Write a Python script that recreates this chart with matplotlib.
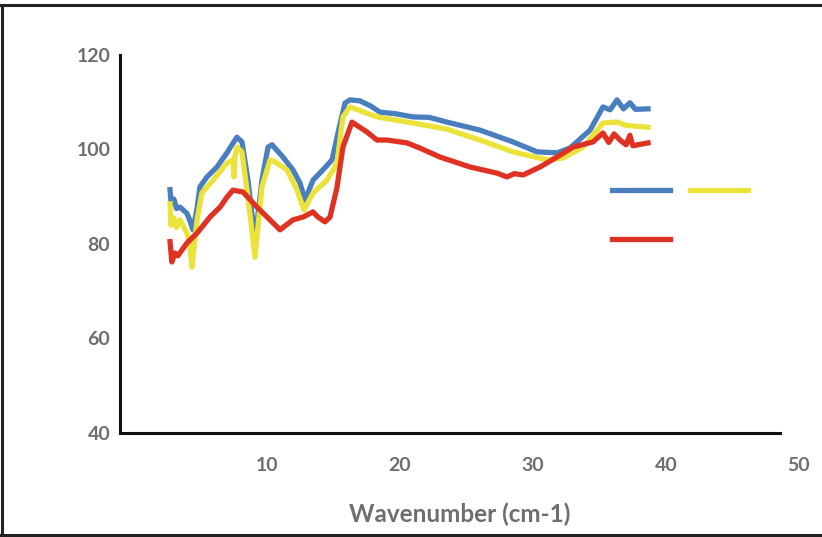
import matplotlib.pyplot as plt
from matplotlib.lines import Line2D

blue_x = [2.71, 2.8, 3.0, 3.2, 3.46, 3.98, 4.2, 4.36, 4.44, 4.74, 4.96, 5.49, 6.24, 6.99,
          7.37, 7.74, 8.12, 8.57, 9.10, 9.62, 10.08, 10.38, 11.20, 11.95, 12.48, 12.86,
          13.46, 14.21, 14.89, 15.34, 15.86, 16.24, 16.99, 17.8, 18.5, 19.6, 20.98, 22.2,
          23.53, 26.02, 28.5, 30.3, 31.8, 32.78, 34.29, 35.26, 35.8, 36.32, 36.8, 37.29,
          37.7, 38.65]
blue_y = [91.5, 88.5, 89.5, 87.5, 87.8, 86.5, 85.0, 83.6, 83.0, 87.5, 92.1, 94.2, 96.3, 99.3,
          101.0, 102.6, 101.6, 93.5, 80.8, 93.5, 100.5, 101.0, 98.4, 95.7, 92.9, 89.3,
          93.5, 95.7, 97.8, 103.5, 109.8, 110.5, 110.3, 109.2, 107.9, 107.6, 106.9, 106.8,
          105.8, 104.1, 101.6, 99.5, 99.3, 100.3, 104.1, 109.0, 108.4, 110.5, 108.6, 109.9,
          108.5, 108.6]

yellow_x = [2.71, 2.78, 3.0, 3.2, 3.46, 3.98, 4.2, 4.36, 4.74, 5.11, 5.94, 6.99, 7.44, 7.52,
            7.6, 7.74, 8.12, 8.57, 9.10, 9.62, 10.23, 10.60, 11.50, 12.26, 12.78, 13.46,
            14.51, 15.26, 15.71, 16.24, 18.27, 20.98, 23.53, 26.02, 28.5, 31.05, 32.26,
            33.76, 35.26, 36.32, 37.0, 38.65]
yellow_y = [88.5, 84.0, 85.5, 83.5, 85.1, 82.3, 80.0, 75.1, 85.1, 90.8, 93.5, 97.1, 97.8, 94.2,
            98.5, 100.5, 99.5, 89.9, 77.2, 92.1, 97.8, 97.4, 95.7, 91.4, 87.2, 90.8,
            93.5, 97.1, 106.9, 109.0, 106.9, 105.6, 104.3, 102.0, 99.5, 97.8, 98.2,
            100.5, 105.6, 105.8, 105.1, 104.7]

red_x = [2.71, 2.85, 3.08, 3.3, 3.98, 4.74, 5.71, 6.47, 6.99, 7.44, 8.20, 9.25, 10.23, 10.98,
         11.95, 12.71, 13.46, 13.83, 14.36, 14.74, 15.26, 15.71, 16.39, 17.52, 18.27, 19.02,
         20.53, 21.50, 23.01, 25.26, 27.29, 28.05, 28.6, 29.25, 30.53, 31.80, 33.01, 34.51,
         35.26, 35.7, 36.1, 36.54, 37.0, 37.29, 37.5, 38.65]
red_y = [80.5, 76.2, 78.1, 77.5, 80.2, 82.3, 85.7, 87.8, 89.9, 91.4, 91.0, 87.8, 85.1, 83.0,
         85.1, 85.7, 86.8, 85.7, 84.7, 85.7, 91.9, 100.5, 105.8, 103.7, 102.0, 102.0,
         101.4, 100.3, 98.4, 96.3, 95.0, 94.2, 94.9, 94.6, 96.3, 98.4, 100.5, 101.6,
         103.5, 101.5, 103.3, 102.0, 101.0, 103.0, 100.8, 101.4]

x_ticks = [10, 20, 30, 40, 50]
y_ticks = [40, 60, 80, 100, 120]

blue = "#4a7fbf"
yellow = "#ece33a"
red = "#e03223"
grey = "#6e6e6e"

plt.rcParams["font.family"] = ["Lato", "DejaVu Sans"]

fig = plt.figure(figsize=(8.22, 5.37), dpi=100)
ax = fig.add_axes([120 / 822, 1 - 433 / 537, 679 / 822, 378 / 537])

ax.plot(blue_x, blue_y, color=blue, lw=3.8, solid_joinstyle="round")
ax.plot(yellow_x, yellow_y, color=yellow, lw=3.8, solid_joinstyle="round")
ax.plot(red_x, red_y, color=red, lw=3.8, solid_joinstyle="round")

ax.set_xlim(-1.05, 50)
ax.set_ylim(40, 120)
ax.spines["bottom"].set_bounds(-1.05, 48.6)
ax.spines["top"].set_visible(False)
ax.spines["right"].set_visible(False)
for side in ["left", "bottom"]:
    ax.spines[side].set_linewidth(2.2)
    ax.spines[side].set_color("#111111")

ax.set_xticks(x_ticks)
ax.set_yticks(y_ticks)
ax.tick_params(axis="x", length=0, pad=17, labelsize=14, labelcolor=grey)
ax.tick_params(axis="y", length=0, pad=7, labelsize=14, labelcolor=grey)
for lab in ax.get_xticklabels() + ax.get_yticklabels():
    lab.set_fontweight("bold")

ax.set_xlabel("Wavenumber (cm-1)", fontsize=17.5, fontweight="bold", color=grey, labelpad=21)

handles = [Line2D([], [], color=blue, lw=3.8),
           Line2D([], [], color=red, lw=3.8),
           Line2D([], [], color=yellow, lw=3.8)]
ax.legend(handles, ["", "", ""], ncol=2, frameon=False, fontsize=10,
          loc="upper left", bbox_to_anchor=(612 / 822, 1 - 185 / 537),
          bbox_transform=fig.transFigure, borderpad=0, borderaxespad=0,
          handlelength=4.17, handletextpad=0, columnspacing=1.44, labelspacing=2.68)

# frame around the picture
fig.add_artist(Line2D([0, 1], [1 - 5 / 537, 1 - 5 / 537], color="#222222", lw=2.2))
fig.add_artist(Line2D([0, 1], [1 - 535 / 537, 1 - 535 / 537], color="#222222", lw=2.2))
fig.add_artist(Line2D([1.5 / 822, 1.5 / 822], [1 - 535 / 537, 1 - 5 / 537], color="#222222", lw=2.2))

fig.savefig("out.png", dpi=100)
